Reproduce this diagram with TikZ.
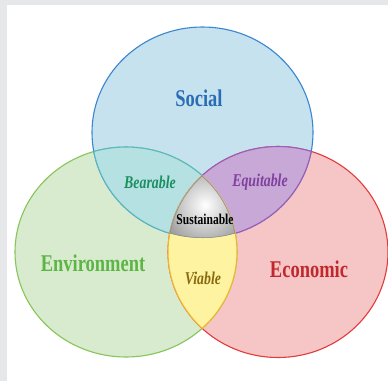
\documentclass[tikz,border=0pt]{standalone}
\usepackage{fontspec}
\setmainfont{Liberation Serif}
\newfontfamily\vfont[FakeStretch=0.77]{Liberation Serif}
\definecolor{bgray}{HTML}{E6E7E9}
\definecolor{sfill}{HTML}{C6E2EF}
\definecolor{sline}{HTML}{3A86CF}
\definecolor{gfill}{HTML}{D8EBCF}
\definecolor{gline}{HTML}{86C558}
\definecolor{rfill}{HTML}{F6C5C5}
\definecolor{rline}{HTML}{E23B3B}
\definecolor{cfill}{HTML}{B6E1E3}
\definecolor{cline}{HTML}{5AB8C0}
\definecolor{pfill}{HTML}{C7A8D6}
\definecolor{pline}{HTML}{9A5EB8}
\definecolor{yfill}{HTML}{FDF3A0}
\definecolor{yline}{HTML}{F0B530}
\definecolor{mline}{HTML}{8C8C8C}
\definecolor{tsoc}{HTML}{2A6DB5}
\definecolor{tenv}{HTML}{5CB545}
\definecolor{teco}{HTML}{C0282D}
\definecolor{tbea}{HTML}{1A9060}
\definecolor{tequ}{HTML}{8040A0}
\definecolor{tvia}{HTML}{8A6A10}
\def\ellB{(202.5,132.5) ellipse [x radius=110.5pt, y radius=105.5pt]}
\def\ellG{(126,252) ellipse [x radius=111pt, y radius=105pt]}
\def\ellR{(278,252) ellipse [x radius=110pt, y radius=105.5pt]}
\tikzset{
  big/.style={font=\vfont\bfseries\fontsize{24}{28}\selectfont},
  small/.style={font=\vfont\bfseries\itshape\fontsize{18}{22}\selectfont},
  edge/.style={line width=1.1pt}
}
\begin{document}
\begin{tikzpicture}[x=1pt,y=-1pt]
\useasboundingbox (0,0) rectangle (388,381);
\fill[bgray] (0,0) rectangle (388,381);
\fill[white] (7,5) rectangle (388,381);
% circles
\fill[gfill] \ellG;
\fill[rfill] \ellR;
\fill[sfill] \ellB;
\draw[edge,gline] \ellG;
\draw[edge,rline] \ellR;
\draw[edge,sline] \ellB;
% Social & Environment
\begin{scope}
  \clip \ellB;
  \fill[cfill] \ellG;
  \draw[edge,cline] \ellG;
\end{scope}
\begin{scope}
  \clip \ellG;
  \draw[edge,cline] \ellB;
\end{scope}
% Social & Economic
\begin{scope}
  \clip \ellB;
  \fill[pfill] \ellR;
  \draw[edge,pline] \ellR;
\end{scope}
\begin{scope}
  \clip \ellR;
  \draw[edge,pline] \ellB;
\end{scope}
% Environment & Economic
\begin{scope}
  \clip \ellG;
  \fill[yfill] \ellR;
  \draw[edge,yline] \ellR;
\end{scope}
\begin{scope}
  \clip \ellR;
  \draw[edge,yline] \ellG;
\end{scope}
% centre
\begin{scope}
  \clip \ellB;
  \clip \ellG;
  \clip \ellR;
  \shade[inner color=white, outer color=black!40] (205,205) circle (45pt);
  \draw[edge,mline] \ellB;
  \draw[edge,mline] \ellG;
  \draw[edge,mline] \ellR;
\end{scope}
% labels
\node[big,text=tsoc] (social) at (199,98) {Social};
\node[big,text=tenv] (env) at (93,263) {Environment};
\node[big,text=teco] (eco) at (309,269) {Economic};
\node[small,text=tbea] (bear) at (150,182) {Bearable};
\node[small,text=tequ] (equi) at (260,182) {Equitable};
\node[small,text=tvia] (via) at (203,278) {Viable};
\node[font=\vfont\bfseries\fontsize{15}{18}\selectfont,text=black] (sust) at (205,219) {Sustainable};
\end{tikzpicture}
\end{document}
